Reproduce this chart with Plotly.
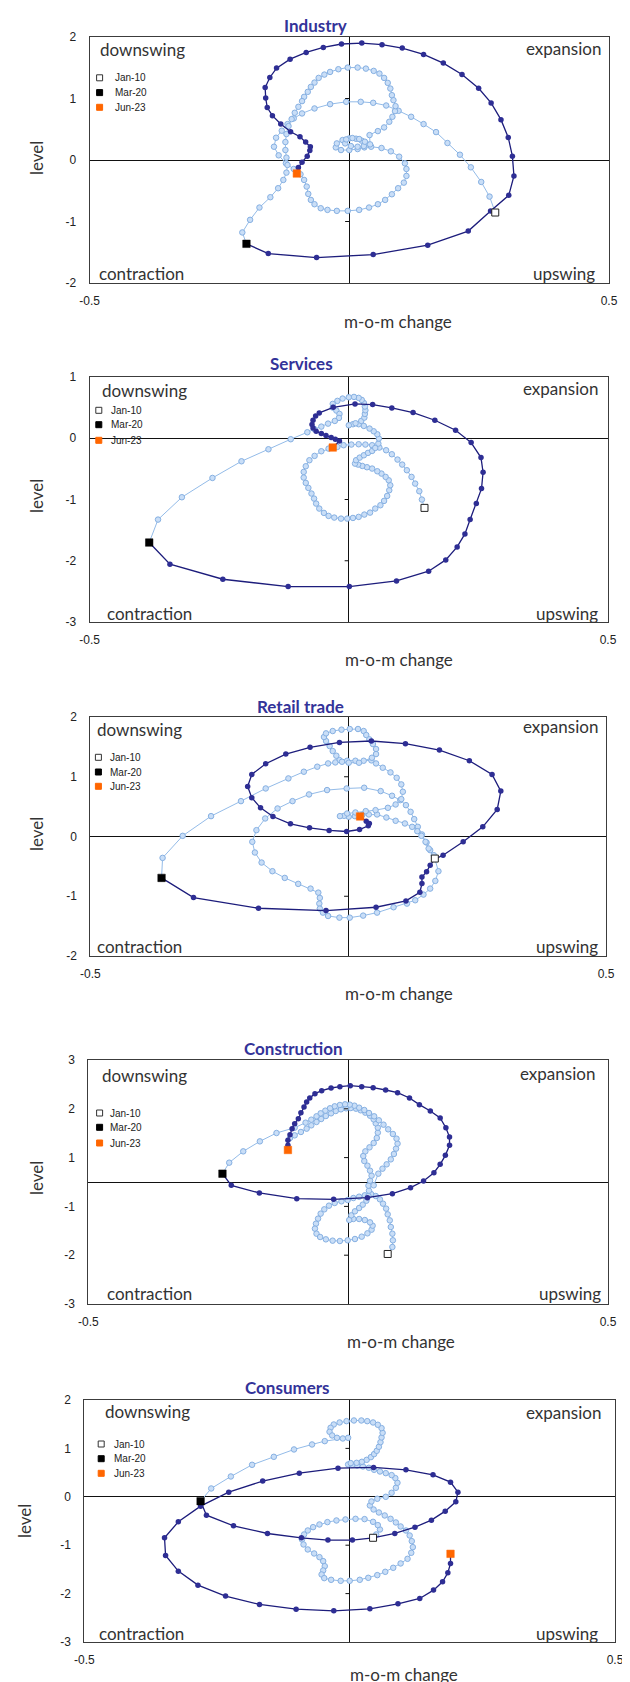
import plotly.graph_objects as go

# ---------------- data ----------------
titles = ["Industry", "Services", "Retail trade", "Construction", "Consumers"]
y_ranges = [[-2, 2], [-3, 1], [-2, 2], [-2.5, 2.5], [-3, 2]]
y_tickvals = [[-2, -1, 0, 1, 2], [-3, -2, -1, 0, 1], [-2, -1, 0, 1, 2],
              [-2.5, -1.5, -0.5, 0.5, 1.5, 2.5], [-3, -2, -1, 0, 1, 2]]
y_ticktext = [["-2", "-1", "0", "1", "2"], ["-3", "-2", "-1", "0", "1"], ["-2", "-1", "0", "1", "2"],
              ["-3", "-2", "-1", "1", "2", "3"], ["-3", "-2", "-1", "0", "1", "2"]]
x_tickvals = [-0.5, 0.5]
x_ticktext = ["-0.5", "0.5"]
legend_labels = ["Jan-10", "Mar-20", "Jun-23"]
quadrant_labels = ["downswing", "expansion", "contraction", "upswing"]
x_title = "m-o-m change"
y_title = "level"

# Industry: Jan-10 .. Mar-20 (pre) and Mar-20 .. Jun-23 (post)
industry_pre_x = [0.281, 0.270, 0.254, 0.234, 0.213, 0.189, 0.167, 0.143, 0.119, 0.095,
                  0.071, 0.046, 0.022, -0.006, -0.037, -0.067, -0.091, -0.107, -0.119, -0.130,
                  -0.141, -0.145, -0.136, -0.122, -0.107, -0.094, -0.087, -0.082, -0.079, -0.074,
                  -0.067, -0.055, -0.042, -0.024, -0.003, 0.019, 0.038, 0.055, 0.069, 0.082,
                  0.094, 0.105, 0.110, 0.110, 0.107, 0.096, 0.080, 0.062, 0.042,
                  0.029, 0.016, 0.000, -0.016, -0.026, -0.024, -0.013, 0.000, 0.013, 0.024,
                  0.032, 0.028, 0.016, 0.003, -0.008, -0.006, 0.006, 0.019, 0.030, 0.040,
                  0.039, 0.055, 0.067, 0.077, 0.083, 0.088, 0.089, 0.085, 0.082, 0.079,
                  0.074, 0.067, 0.058, 0.047, 0.032, 0.016, -0.003, -0.021, -0.037, -0.048,
                  -0.059, -0.067, -0.074, -0.080, -0.087, -0.091, -0.098, -0.105, -0.111, -0.117,
                  -0.121, -0.123, -0.123, -0.121, -0.119, -0.121, -0.127, -0.137, -0.152, -0.173,
                  -0.191, -0.206, -0.198]
industry_pre_y = [-0.854, -0.595, -0.357, -0.119, 0.086, 0.276, 0.454, 0.584, 0.703, 0.800,
                  0.886, 0.930, 0.946, 0.946, 0.908, 0.838, 0.757, 0.676, 0.584, 0.476,
                  0.362, 0.216, 0.076, -0.054, -0.146, -0.232, -0.324, -0.432, -0.551, -0.649,
                  -0.719, -0.784, -0.811, -0.827, -0.827, -0.811, -0.773, -0.719, -0.649, -0.557,
                  -0.459, -0.368, -0.259, -0.146, -0.054, 0.054, 0.141, 0.195, 0.216,
                  0.205, 0.178, 0.162, 0.162, 0.205, 0.270, 0.324, 0.351, 0.346, 0.314,
                  0.270, 0.227, 0.216, 0.227, 0.270, 0.335, 0.357, 0.341, 0.297, 0.254,
                  0.405, 0.470, 0.530, 0.622, 0.703, 0.795, 0.876, 0.973, 1.054, 1.162,
                  1.254, 1.335, 1.405, 1.449, 1.486, 1.503, 1.503, 1.476, 1.432, 1.389,
                  1.335, 1.259, 1.189, 1.108, 1.027, 0.957, 0.865, 0.768, 0.665, 0.551,
                  0.422, 0.292, 0.162, 0.038, -0.081, -0.205, -0.324, -0.459, -0.605, -0.773,
                  -0.973, -1.178, -1.363]
industry_post_x = [-0.198, -0.156, -0.063, 0.046, 0.151, 0.229, 0.272, 0.307, 0.317, 0.314,
                   0.306, 0.292, 0.273, 0.249, 0.217, 0.181, 0.143, 0.102, 0.063, 0.024,
                   -0.015, -0.050, -0.083, -0.114, -0.140, -0.153, -0.162, -0.161, -0.158, -0.148,
                   -0.132, -0.113, -0.095, -0.084, -0.075, -0.076, -0.081, -0.091, -0.098, -0.101]
industry_post_y = [-1.363, -1.521, -1.586, -1.537, -1.385, -1.156, -0.830, -0.574, -0.259, 0.063,
                   0.367, 0.656, 0.928, 1.167, 1.391, 1.576, 1.717, 1.820, 1.875, 1.902,
                   1.886, 1.831, 1.749, 1.640, 1.494, 1.342, 1.178, 1.010, 0.852, 0.721,
                   0.585, 0.460, 0.378, 0.291, 0.215, 0.155, 0.063, -0.035, -0.122, -0.220]

# Services
services_pre_x = [0.146, 0.141, 0.136, 0.128, 0.121, 0.112, 0.103, 0.094, 0.083, 0.072,
                  0.059, 0.045, 0.032, 0.019, 0.005, -0.010, -0.022, -0.039, -0.053, -0.066,
                  -0.076, -0.083, -0.087, -0.087, -0.083, -0.078, -0.072, -0.067, -0.063, -0.057,
                  -0.048, -0.039, -0.028, -0.015, -0.003, 0.008, 0.019, 0.030, 0.041, 0.051,
                  0.061, 0.068, 0.074, 0.078, 0.080, 0.077, 0.071, 0.063, 0.055, 0.045,
                  0.035, 0.026, 0.018, 0.012, 0.014, 0.021, 0.029, 0.037, 0.045, 0.051,
                  0.057, 0.058, 0.055, 0.048, 0.040, 0.029, 0.019, 0.008, 0.000, 0.013,
                  0.024, 0.030, 0.031, 0.032, 0.031, 0.029, 0.025, 0.019, 0.010, 0.000,
                  -0.012, -0.022, -0.031, -0.031, -0.024, -0.018, -0.019, -0.027, -0.040, -0.053,
                  -0.066, -0.080, -0.112, -0.155, -0.207, -0.263, -0.322, -0.368, -0.385]
services_pre_y = [-1.137, -1.001, -0.865, -0.740, -0.631, -0.522, -0.430, -0.348, -0.261, -0.196,
                  -0.152, -0.114, -0.103, -0.098, -0.103, -0.114, -0.141, -0.169, -0.212, -0.288,
                  -0.359, -0.457, -0.550, -0.642, -0.729, -0.811, -0.903, -0.985, -1.067, -1.148,
                  -1.219, -1.268, -1.295, -1.312, -1.312, -1.301, -1.284, -1.246, -1.214, -1.148,
                  -1.094, -1.023, -0.942, -0.849, -0.767, -0.686, -0.631, -0.577, -0.539, -0.495,
                  -0.473, -0.452, -0.430, -0.414, -0.359, -0.316, -0.278, -0.239, -0.207, -0.158,
                  -0.087, -0.005, 0.065, 0.114, 0.158, 0.201, 0.229, 0.229, 0.212, 0.245,
                  0.283, 0.337, 0.397, 0.457, 0.517, 0.577, 0.626, 0.659, 0.675, 0.669,
                  0.648, 0.610, 0.561, 0.501, 0.452, 0.397, 0.332, 0.283, 0.239, 0.190,
                  0.147, 0.098, -0.016, -0.180, -0.376, -0.648, -0.963, -1.328, -1.703]
services_post_x = [-0.385, -0.345, -0.243, -0.117, 0.001, 0.092, 0.154, 0.187, 0.209, 0.224,
                   0.234, 0.246, 0.256, 0.259, 0.255, 0.236, 0.206, 0.166, 0.124, 0.083,
                   0.046, 0.012, -0.030, -0.057, -0.064, -0.069, -0.071, -0.069, -0.063, -0.053,
                   -0.044, -0.034, -0.026, -0.018, -0.031]
services_post_y = [-1.703, -2.057, -2.302, -2.422, -2.422, -2.329, -2.171, -1.986, -1.774, -1.562,
                   -1.328, -1.067, -0.822, -0.555, -0.316, -0.071, 0.131, 0.294, 0.419, 0.495,
                   0.550, 0.561, 0.505, 0.414, 0.365, 0.294, 0.223, 0.169, 0.114, 0.076,
                   0.044, 0.011, -0.016, -0.044, -0.152]

# Retail trade
retail_pre_x = [0.168, 0.159, 0.152, 0.143, 0.135, 0.128, 0.121, 0.112, 0.101, 0.085,
                0.063, 0.031, -0.003, -0.041, -0.076, -0.108, -0.137, -0.161, -0.178, -0.186,
                -0.181, -0.168, -0.147, -0.123, -0.097, -0.073, -0.058, -0.055, -0.056, -0.055,
                -0.049, -0.039, -0.017, 0.003, 0.029, 0.056, 0.088, 0.114, 0.130, 0.146,
                0.159, 0.169, 0.175, 0.166, 0.156, 0.150, 0.142, 0.134, 0.124, 0.110,
                0.092, 0.074, 0.056, 0.040, 0.027, 0.013, 0.001, -0.008, -0.016, -0.002,
                0.014, 0.034, 0.053, 0.077, 0.092, 0.103, 0.106, 0.103, 0.094, 0.082,
                0.067, 0.054, 0.045, 0.030, 0.014, -0.002, -0.017, -0.023, -0.030, -0.036,
                -0.043, -0.047, -0.043, -0.030, -0.013, 0.003, 0.019, 0.030, 0.035, 0.041,
                0.048, 0.054, 0.054, 0.046, 0.021, 0.001, -0.012, -0.025, -0.039, -0.060,
                -0.086, -0.116, -0.160, -0.208, -0.266, -0.321, -0.360, -0.362]
retail_pre_y = [-0.369, -0.229, -0.101, 0.034, 0.162, 0.291, 0.413, 0.525, 0.609, 0.682,
                0.760, 0.816, 0.804, 0.777, 0.704, 0.592, 0.469, 0.302, 0.106, -0.089,
                -0.268, -0.436, -0.581, -0.693, -0.793, -0.872, -0.939, -1.028, -1.123, -1.207,
                -1.274, -1.330, -1.358, -1.358, -1.324, -1.274, -1.184, -1.123, -1.067, -0.972,
                -0.872, -0.743, -0.581, -0.313, -0.201, -0.089, 0.011, 0.089, 0.162, 0.218,
                0.263, 0.318, 0.369, 0.369, 0.358, 0.341, 0.330, 0.346, 0.341, 0.385,
                0.402, 0.425, 0.441, 0.480, 0.536, 0.626, 0.749, 0.872, 0.983, 1.073,
                1.151, 1.223, 1.274, 1.268, 1.268, 1.268, 1.279, 1.352, 1.430, 1.514,
                1.598, 1.665, 1.726, 1.765, 1.788, 1.799, 1.799, 1.765, 1.698, 1.626,
                1.547, 1.464, 1.380, 1.318, 1.235, 1.235, 1.251, 1.240, 1.223, 1.168,
                1.084, 0.972, 0.804, 0.592, 0.341, 0.011, -0.358, -0.693]
retail_post_x = [-0.362, -0.300, -0.174, -0.043, 0.054, 0.112, 0.139, 0.143, 0.143, 0.152,
                 0.159, 0.168, 0.184, 0.223, 0.261, 0.289, 0.296, 0.279, 0.235, 0.177,
                 0.111, 0.045, -0.017, -0.074, -0.121, -0.160, -0.187, -0.195, -0.187, -0.170,
                 -0.146, -0.112, -0.075, -0.037, -0.003, 0.022, 0.039, 0.041, 0.035, 0.023]
retail_post_y = [-0.693, -1.022, -1.201, -1.240, -1.184, -1.078, -0.933, -0.788, -0.676, -0.592,
                 -0.480, -0.380, -0.313, -0.089, 0.162, 0.453, 0.760, 1.039, 1.268, 1.447,
                 1.553, 1.598, 1.575, 1.492, 1.380, 1.218, 1.039, 0.838, 0.648, 0.480,
                 0.335, 0.212, 0.145, 0.101, 0.084, 0.117, 0.179, 0.218, 0.257, 0.335]

# Construction (None = break where the path could not be followed)
construction_pre_x = [0.076, 0.085, 0.086, 0.085, 0.082, 0.080, 0.076, 0.073, 0.067, 0.061,
                      0.053, 0.044, 0.032, 0.021, 0.010, -0.001, -0.013, -0.026, -0.037, -0.046,
                      -0.053, -0.058, -0.062, -0.064, -0.061, -0.054, -0.043, -0.030, -0.016, -0.001,
                      0.013, 0.026, 0.037, 0.045, 0.047, 0.042, 0.032, 0.021, 0.010, 0.002,
                      0.006, 0.013, 0.021, 0.028, 0.035, 0.039, 0.040, 0.039, 0.042, 0.045,
                      0.042, 0.037, 0.031, 0.029, 0.033, 0.041, 0.049, 0.055, 0.057, 0.057,
                      0.053, 0.049, 0.042, 0.033, 0.024, 0.015, 0.005, -0.004, -0.014, -0.024,
                      -0.033, -0.043, -0.052, -0.061, -0.071, -0.080, -0.091, -0.103, -0.112,
                      None,
                      0.049, 0.058, 0.066, 0.074, 0.082, 0.088, 0.092, 0.095, 0.093, 0.086,
                      0.077, 0.068, 0.059, 0.050, 0.040, 0.031, 0.021, 0.012, 0.003, -0.006,
                      -0.016, -0.026, -0.035, -0.044, -0.053, -0.061, -0.071, -0.082, -0.103, -0.138,
                      -0.170, -0.202, -0.229, -0.242]
construction_pre_y = [-1.475, -1.332, -1.195, -1.059, -0.922, -0.786, -0.663, -0.546, -0.444, -0.355,
                      -0.287, -0.246, -0.273, -0.301, -0.328, -0.369, -0.396, -0.430, -0.485, -0.560,
                      -0.649, -0.751, -0.854, -0.956, -1.059, -1.127, -1.175, -1.202, -1.209, -1.195,
                      -1.168, -1.120, -1.052, -0.977, -0.895, -0.827, -0.779, -0.758, -0.758, -0.779,
                      -0.683, -0.601, -0.533, -0.464, -0.383, -0.287, -0.178, -0.075, 0.027, 0.130,
                      0.232, 0.335, 0.430, 0.533, 0.628, 0.710, 0.799, 0.902, 1.011, 1.113,
                      1.202, 1.284, 1.359, 1.421, 1.469, 1.503, 1.516, 1.510, 1.489, 1.455,
                      1.407, 1.352, 1.291, 1.230, 1.161, 1.093, 1.025, 0.956, 0.902,
                      None,
                      -0.068, 0.171, 0.273, 0.362, 0.464, 0.574, 0.683, 0.786, 0.888, 0.984,
                      1.079, 1.175, 1.264, 1.346, 1.414, 1.475, 1.523, 1.564, 1.585, 1.592,
                      1.578, 1.551, 1.510, 1.462, 1.407, 1.346, 1.277, 1.216, 1.113, 1.004,
                      0.833, 0.628, 0.396, 0.171]
construction_post_x = [-0.242, -0.225, -0.171, -0.099, -0.028, 0.037, 0.085, 0.120, 0.145, 0.165,
                       0.177, 0.187, 0.195, 0.195, 0.188, 0.177, 0.158, 0.137, 0.118, 0.095,
                       0.072, 0.048, 0.026, 0.004, -0.016, -0.033, -0.051, -0.064, -0.074, -0.080,
                       -0.085, -0.091, -0.096, -0.103, -0.108, -0.112, -0.116, -0.116, -0.116]
construction_post_y = [0.171, -0.068, -0.225, -0.342, -0.355, -0.321, -0.239, -0.116, 0.020, 0.191,
                       0.362, 0.546, 0.751, 0.922, 1.113, 1.311, 1.455, 1.585, 1.721, 1.831,
                       1.885, 1.933, 1.954, 1.974, 1.954, 1.926, 1.872, 1.810, 1.721, 1.639,
                       1.537, 1.421, 1.298, 1.195, 1.093, 0.970, 0.854, 0.751, 0.656]

# Consumers
consumers_pre_x = [0.044, 0.050, 0.057, 0.053, 0.044, 0.028, 0.011, -0.008, -0.025, -0.042,
                   -0.057, -0.069, -0.079, -0.086, -0.090, -0.087, -0.079, -0.067, -0.057, -0.050,
                   -0.047, -0.050, -0.053, -0.048, -0.035, -0.017, 0.000, 0.019, 0.035, 0.052,
                   0.067, 0.082, 0.096, 0.109, 0.116, 0.119, 0.117, 0.113, 0.106, 0.096,
                   0.087, 0.077, 0.066, 0.055, 0.045, 0.038, 0.041, 0.052, 0.068, 0.079,
                   0.087, 0.090, 0.086, 0.079, 0.068, 0.057, 0.046, 0.036, 0.025, 0.014,
                   0.005, -0.003, 0.002, 0.013, 0.023, 0.032, 0.040, 0.046, 0.051, 0.055,
                   0.058, 0.060, 0.062, 0.060, 0.053, 0.044, 0.033, 0.022, 0.008, -0.006,
                   -0.019, -0.030, -0.036, -0.038, -0.033, -0.024, -0.013, -0.003, -0.047, -0.071,
                   -0.105, -0.143, -0.184, -0.224, -0.261, -0.281]
consumers_pre_y = [-0.847, -0.778, -0.675, -0.585, -0.517, -0.461, -0.455, -0.468, -0.489, -0.523,
                   -0.572, -0.627, -0.696, -0.778, -0.882, -0.985, -1.088, -1.171, -1.247, -1.329,
                   -1.433, -1.522, -1.605, -1.680, -1.715, -1.736, -1.736, -1.715, -1.674, -1.618,
                   -1.550, -1.467, -1.377, -1.281, -1.157, -1.040, -0.916, -0.799, -0.696, -0.613,
                   -0.530, -0.455, -0.386, -0.324, -0.262, -0.179, -0.096, -0.041, 0.000, 0.083,
                   0.186, 0.289, 0.386, 0.448, 0.489, 0.523, 0.558, 0.599, 0.627, 0.647,
                   0.661, 0.668, 0.696, 0.702, 0.723, 0.764, 0.820, 0.882, 0.950, 1.033,
                   1.129, 1.226, 1.322, 1.419, 1.488, 1.536, 1.563, 1.577, 1.577, 1.563,
                   1.536, 1.494, 1.426, 1.343, 1.267, 1.219, 1.205, 1.219, 1.150, 1.081,
                   0.978, 0.826, 0.661, 0.420, 0.172, -0.090]
consumers_post_x = [-0.281, -0.270, -0.219, -0.155, -0.091, -0.041, 0.005, 0.044, 0.085, 0.123,
                    0.154, 0.180, 0.200, 0.204, 0.190, 0.157, 0.106, 0.045, -0.022, -0.095,
                    -0.164, -0.228, -0.281, -0.323, -0.349, -0.347, -0.323, -0.286, -0.234, -0.170,
                    -0.101, -0.030, 0.038, 0.091, 0.132, 0.158, 0.175, 0.185, 0.190, 0.190]
consumers_post_y = [-0.090, -0.379, -0.599, -0.758, -0.847, -0.895, -0.895, -0.847, -0.758, -0.627,
                    -0.482, -0.296, -0.103, 0.096, 0.303, 0.455, 0.558, 0.606, 0.592, 0.489,
                    0.324, 0.096, -0.193, -0.517, -0.847, -1.212, -1.536, -1.825, -2.052, -2.224,
                    -2.321, -2.355, -2.314, -2.211, -2.101, -1.928, -1.756, -1.570, -1.377, -1.178]

# ---------------- layout (pixel positions on the 630 x 1682 page) ----------------
W, H = 630, 1682
frames = [(81.6, 601.0, 29.0, 275.0), (81.6, 600.0, 369.0, 614.0), (82.4, 598.0, 709.0, 948.0),
          (80.4, 600.0, 1052.0, 1296.0), (76.4, 607.0, 1392.0, 1634.0)]
title_pos = [(307.5, 17), (293.5, 355), (292, 698), (285, 1040), (279.4, 1379)]
ytitle_pos = [(29, 150), (29, 488), (29, 826), (28, 1170), (16, 1513)]
xtitle_pos = [(390, 313), (391, 652), (391, 986), (393, 1333), (396, 1666)]
quad_pos = [
    [(90.4, 42), (595, 41), (89, 266), (589, 266)],
    [(91.6, 382), (591.6, 381), (96.5, 605), (591.6, 605)],
    [(87, 721), (591.6, 719), (87, 938), (591.6, 938)],
    [(91.6, 1067), (588.8, 1065), (96.5, 1285), (595, 1285)],
    [(95.3, 1403), (595, 1404), (89, 1625), (591.6, 1625)],
]
legend_pos = [(91.6, 104.5, [69.8, 84.6, 99.3]), (90.8, 101, [402.3, 416.7, 432.3]),
              (90.4, 100.5, [749.3, 764, 778.3]), (91.6, 100.5, [1105, 1119.3, 1135]),
              (93.2, 103.7, [1436, 1450.7, 1465.3])]

pre = [(industry_pre_x, industry_pre_y), (services_pre_x, services_pre_y), (retail_pre_x, retail_pre_y),
       (construction_pre_x, construction_pre_y), (consumers_pre_x, consumers_pre_y)]
post = [(industry_post_x, industry_post_y), (services_post_x, services_post_y), (retail_post_x, retail_post_y),
        (construction_post_x, construction_post_y), (consumers_post_x, consumers_post_y)]

LIGHT_LINE = "#93bbe8"
LIGHT_FILL = "#c9def7"
LIGHT_EDGE = "#86b0e2"
DARK_LINE = "#1d1d7c"
DARK_FILL = "#2e2e94"
ORANGE = "#ff6600"
TITLE_C = "#333399"
TEXT_C = "#333333"
QFONT = "Lato"


def px(x):
    return x / W


def py(y):
    return 1 - y / H


fig = go.Figure()
axes = {}
annotations = []
shapes = []

for i in range(5):
    sfx = "" if i == 0 else str(i + 1)
    xa, ya = "x" + sfx, "y" + sfx
    l, r, t, b = frames[i]
    axes["xaxis" + sfx] = dict(domain=[px(l), px(r)], range=[-0.5, 0.5], anchor=ya, automargin=False,
                               showline=True, mirror=True, linecolor="#3c3c3c", linewidth=1,
                               showgrid=False, zeroline=True, zerolinecolor="#111111", zerolinewidth=1,
                               tickmode="array", tickvals=x_tickvals, ticktext=x_ticktext, ticks="",
                               ticklabelstandoff=7, tickfont=dict(family="Liberation Sans", size=12, color="#222"),
                               fixedrange=True)
    axes["yaxis" + sfx] = dict(domain=[py(b), py(t)], range=y_ranges[i], anchor=xa, automargin=False,
                               showline=True, mirror=True, linecolor="#3c3c3c", linewidth=1,
                               showgrid=False, zeroline=True, zerolinecolor="#111111", zerolinewidth=1,
                               tickmode="array", tickvals=y_tickvals[i], ticktext=y_ticktext[i], ticks="",
                               ticklabelstandoff=10, tickfont=dict(family="Liberation Sans", size=12, color="#222"),
                               fixedrange=True)

    # small tick marks on the vertical (x = 0) axis
    lo, hi = y_ranges[i]
    for tv in y_tickvals[i]:
        if lo < tv < hi and tv != 0:
            shapes.append(dict(type="line", xref=xa, yref=ya, x0=-0.008, x1=0, y0=tv, y1=tv,
                               line=dict(color="#111111", width=1)))

    prx, pry = pre[i]
    pox, poy = post[i]
    fig.add_trace(go.Scatter(x=prx, y=pry, xaxis=xa, yaxis=ya, mode="lines+markers",
                             line=dict(color=LIGHT_LINE, width=1),
                             marker=dict(size=5.5, color=LIGHT_FILL, line=dict(color=LIGHT_EDGE, width=1)),
                             hoverinfo="skip"))
    fig.add_trace(go.Scatter(x=pox, y=poy, xaxis=xa, yaxis=ya, mode="lines+markers",
                             line=dict(color=DARK_LINE, width=1.3),
                             marker=dict(size=5.5, color=DARK_FILL, line=dict(width=0)),
                             hoverinfo="skip"))
    # key dates: Jan-10 (start), Mar-20 (break), Jun-23 (latest)
    fig.add_trace(go.Scatter(x=[prx[0]], y=[pry[0]], xaxis=xa, yaxis=ya, mode="markers",
                             marker=dict(symbol="square", size=7, color="white",
                                         line=dict(color="#222222", width=1)), hoverinfo="skip"))
    fig.add_trace(go.Scatter(x=[pox[0]], y=[poy[0]], xaxis=xa, yaxis=ya, mode="markers",
                             marker=dict(symbol="square", size=7.5, color="black",
                                         line=dict(color="black", width=0.5)), hoverinfo="skip"))
    fig.add_trace(go.Scatter(x=[pox[-1]], y=[poy[-1]], xaxis=xa, yaxis=ya, mode="markers",
                             marker=dict(symbol="square", size=7.5, color=ORANGE,
                                         line=dict(color=ORANGE, width=0.5)), hoverinfo="skip"))

    # title
    tx, ty = title_pos[i]
    annotations.append(dict(text="<b>" + titles[i] + "</b>", x=px(tx), y=py(ty), xref="paper", yref="paper",
                            xanchor="center", yanchor="middle", showarrow=False,
                            font=dict(family="Lato", size=17, color=TITLE_C)))
    # axis titles
    ax_, ay_ = ytitle_pos[i]
    annotations.append(dict(text=y_title, x=px(ax_), y=py(ay_), xref="paper", yref="paper", textangle=-90,
                            xanchor="center", yanchor="middle", showarrow=False,
                            font=dict(family=QFONT, size=17, color=TEXT_C)))
    bx, by = xtitle_pos[i]
    annotations.append(dict(text=x_title, x=px(bx), y=py(by), xref="paper", yref="paper",
                            xanchor="center", yanchor="middle", showarrow=False,
                            font=dict(family=QFONT, size=17, color=TEXT_C)))
    # quadrant labels
    for k, (qx, qy) in enumerate(quad_pos[i]):
        annotations.append(dict(text=quadrant_labels[k], x=px(qx), y=py(qy), xref="paper", yref="paper",
                                xanchor="left" if k in (0, 2) else "right", yanchor="middle", showarrow=False,
                                font=dict(family=QFONT, size=17, color=TEXT_C)))
    # key-date legend
    sx, tlx, ys = legend_pos[i]
    fills = ["white", "black", ORANGE]
    edges = ["#333333", "black", ORANGE]
    for k in range(3):
        cy = ys[k]
        shapes.append(dict(type="rect", xref="paper", yref="paper",
                           x0=px(sx - 3), x1=px(sx + 3), y0=py(cy + 3), y1=py(cy - 3),
                           fillcolor=fills[k], line=dict(color=edges[k], width=1)))
        annotations.append(dict(text=legend_labels[k], x=px(tlx), y=py(cy), xref="paper", yref="paper",
                                xanchor="left", yanchor="middle", showarrow=False,
                                font=dict(family="Liberation Sans", size=10, color="#222")))

fig.update_layout(template="none", width=W, height=H, margin=dict(l=0, r=0, t=0, b=0, pad=0),
                  paper_bgcolor="white", plot_bgcolor="white", showlegend=False,
                  font=dict(family="Liberation Sans", color=TEXT_C),
                  annotations=annotations, shapes=shapes, **axes)

fig.write_html("out.html")
